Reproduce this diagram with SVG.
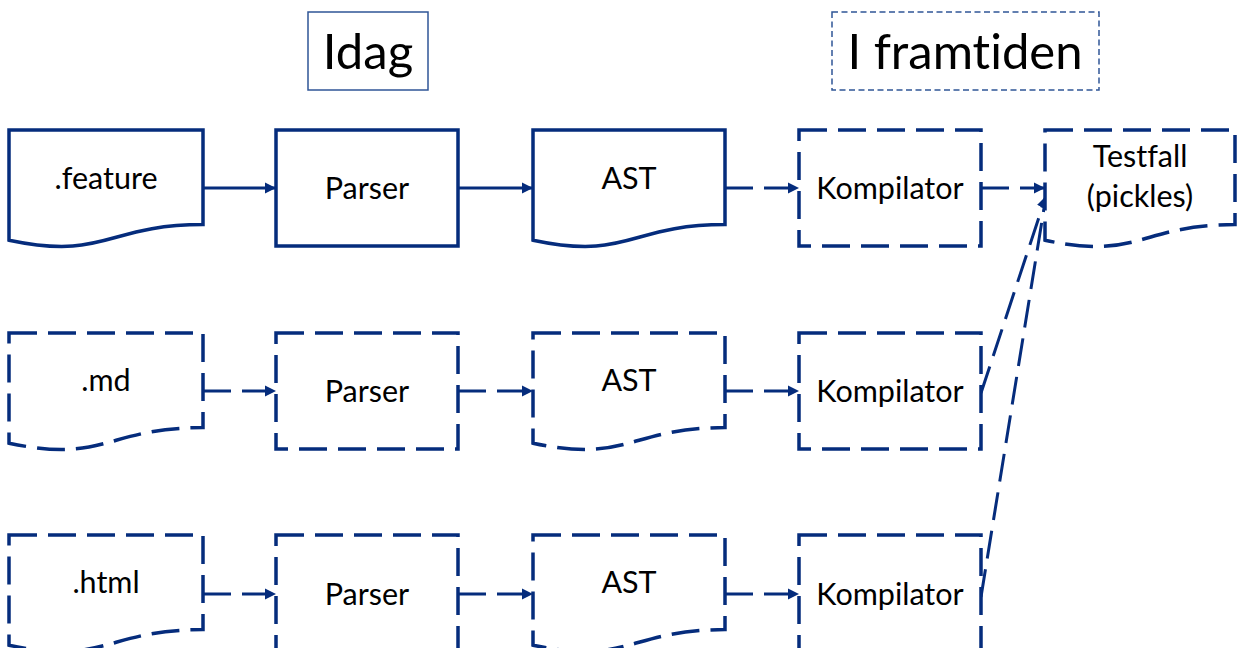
<svg xmlns="http://www.w3.org/2000/svg" width="1242" height="648" viewBox="0 0 1242 648">
<defs>
<style>
.s{fill:#fff;stroke:#052C7C;stroke-width:3.5;stroke-linejoin:miter}
.d{stroke-dasharray:28 11}
.t{font-family:Lato,"Open Sans",sans-serif;font-size:30.5px;fill:#000;text-anchor:middle;font-variant-ligatures:none}
.h{font-family:Lato,"Open Sans",sans-serif;font-size:49px;fill:#000;text-anchor:middle;font-variant-ligatures:none}
.c{fill:none;stroke:#052C7C;stroke-width:3}
.ttl{fill:#fff;stroke:#2F5597;stroke-width:1.5}
</style>
<marker id="ah" viewBox="0 0 10 10" refX="10" refY="5" markerWidth="3.8" markerHeight="3.8" orient="auto" markerUnits="strokeWidth">
<path d="M0,0 L10,5 L0,10 z" fill="#052C7C"/>
</marker>
</defs>
<rect width="1242" height="648" fill="#fff"/>

<g id="title-idag">
<rect class="ttl" x="308" y="12" width="120" height="78"/>
<text class="h" x="368" y="69">Idag</text>
</g>
<g id="title-framtiden">
<rect class="ttl" x="832" y="12" width="267" height="78" stroke-dasharray="6 3.5"/>
<text class="h" x="965" y="69">I framtiden</text>
</g>

<g id="connectors">
<line class="c" x1="203" y1="188" x2="276" y2="188" marker-end="url(#ah)"/>
<line class="c" x1="458" y1="188" x2="533" y2="188" marker-end="url(#ah)"/>
<line class="c d" x1="725" y1="188" x2="799" y2="188" marker-end="url(#ah)"/>
<line class="c d" x1="981" y1="188" x2="1045" y2="188" marker-end="url(#ah)"/>
<line class="c d" x1="203" y1="391" x2="276" y2="391" marker-end="url(#ah)"/>
<line class="c d" x1="458" y1="391" x2="533" y2="391" marker-end="url(#ah)"/>
<line class="c d" x1="725" y1="391" x2="799" y2="391" marker-end="url(#ah)"/>
<line class="c d" x1="203" y1="594" x2="276" y2="594" marker-end="url(#ah)"/>
<line class="c d" x1="458" y1="594" x2="533" y2="594" marker-end="url(#ah)"/>
<line class="c d" x1="725" y1="594" x2="799" y2="594" marker-end="url(#ah)"/>
<line class="c d" x1="981" y1="393" x2="1046" y2="196" marker-end="url(#ah)"/>
<line class="c d" x1="981" y1="597" x2="1046" y2="196" marker-end="url(#ah)"/>
</g>

<g id="feature">
<path class="s" d="M9,130 H203 V224.6 C106,224.6 106,260.7 9,240.2 Z"/>
<text class="t" x="106" y="189">.feature</text>
</g>
<g id="parser1">
<rect class="s" x="276" y="130" width="182" height="116"/>
<text class="t" x="367" y="199">Parser</text>
</g>
<g id="ast1">
<path class="s" d="M533,130 H725 V224.6 C629,224.6 629,260.7 533,240.2 Z"/>
<text class="t" x="629" y="189">AST</text>
</g>
<g id="kompilator1">
<rect class="s d" x="799" y="130" width="182" height="116"/>
<text class="t" x="890" y="199">Kompilator</text>
</g>
<g id="testfall">
<path class="s d" d="M1045,130 H1235 V224.6 C1140,224.6 1140,260.7 1045,240.2 Z"/>
<text class="t" x="1140" y="167">Testfall</text>
<text class="t" x="1140" y="207">(pickles)</text>
</g>

<g id="md">
<path class="s d" d="M9,333 H203 V427.6 C106,427.6 106,463.7 9,443.2 Z"/>
<text class="t" x="106" y="391">.md</text>
</g>
<g id="parser2">
<rect class="s d" x="276" y="333" width="182" height="116"/>
<text class="t" x="367" y="402">Parser</text>
</g>
<g id="ast2">
<path class="s d" d="M533,333 H725 V427.6 C629,427.6 629,463.7 533,443.2 Z"/>
<text class="t" x="629" y="391">AST</text>
</g>
<g id="kompilator2">
<rect class="s d" x="799" y="333" width="182" height="116"/>
<text class="t" x="890" y="402">Kompilator</text>
</g>

<g id="html">
<path class="s d" d="M9,535 H203 V629.6 C106,629.6 106,665.7 9,645.2 Z"/>
<text class="t" x="106" y="593">.html</text>
</g>
<g id="parser3">
<rect class="s d" x="276" y="535" width="182" height="116"/>
<text class="t" x="367" y="605">Parser</text>
</g>
<g id="ast3">
<path class="s d" d="M533,535 H725 V629.6 C629,629.6 629,665.7 533,645.2 Z"/>
<text class="t" x="629" y="593">AST</text>
</g>
<g id="kompilator3">
<rect class="s d" x="799" y="535" width="182" height="116"/>
<text class="t" x="890" y="605">Kompilator</text>
</g>
</svg>
